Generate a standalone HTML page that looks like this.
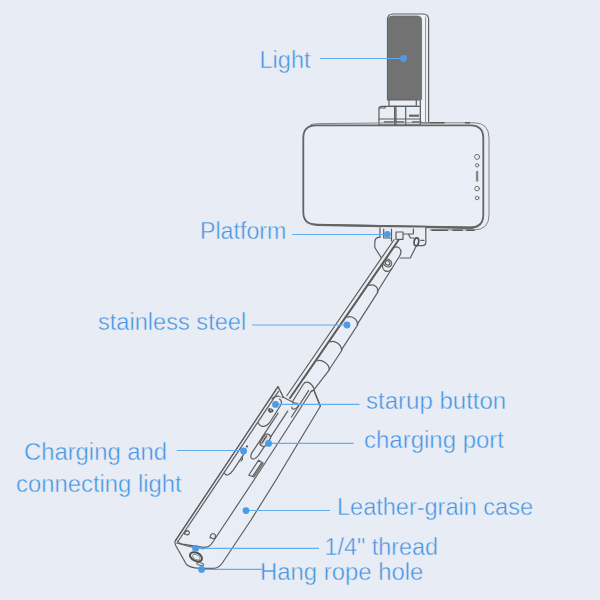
<!DOCTYPE html>
<html lang="en">
<head>
<meta charset="utf-8">
<title>Product parts diagram</title>
<style>
html,body{margin:0;padding:0;background:#e8ecf5;}
body{width:600px;height:600px;overflow:hidden;position:relative;font-family:"Liberation Sans",sans-serif;}
svg{position:absolute;left:0;top:0;display:block;}
.lbl{font-family:"Liberation Sans",sans-serif;font-size:24.6px;fill:#4494e2;stroke:#e8ecf5;stroke-width:0.45px;}
.ln{stroke:#62abec;stroke-width:1.15;fill:none;}
.dot{fill:#4b9ce6;}
.g{stroke:#5e5e5e;stroke-width:1.2;fill:none;stroke-linejoin:round;stroke-linecap:round;}
.gf{stroke:#5e5e5e;stroke-width:1.2;fill:#e9edf5;stroke-linejoin:round;stroke-linecap:round;}
</style>
</head>
<body>
<svg width="600" height="600" viewBox="0 0 600 600">
<rect width="600" height="600" fill="#e8ecf5"/>

<!-- ===== DEVICE ===== -->
<g id="device">
<!-- light -->
<g id="light">
<path class="gf" style="fill:#eff2f8" d="M387.5 100 V19.5 Q387.5 14 393 14 H423 Q428.6 14 428.6 19.5 V123 H420.3 V100 Z"/>
<path class="g" style="stroke:#8c8c8c;stroke-width:1" d="M425.6 17 V123"/>
<path d="M388.2 99.4 V20 Q388.2 16 392.2 16 H417.6 Q421.6 16 421.6 20 V99.4 Z" fill="#727272" stroke="#6a6a6a" stroke-width="0.8"/>
<rect class="gf" x="389" y="100" width="27.3" height="6.3"/>
<path class="gf" d="M379 125 V109 Q379 106.3 382 106.3 H420.3 V125 Z"/>
<path class="g" d="M394.6 106.3 V125 M396 106.3 V125 M405.7 106.3 V125 M379 119 H420.3 M379 108 H385 V106.3"/>
<path class="g" style="stroke:#5e5e5e;stroke-width:1.6" d="M384.5 122 H403.5 M412.5 122 H421"/>
<rect x="409" y="114.6" width="10" height="2.2" fill="#666"/>
</g>
<!-- phone -->
<g id="phone">
<path class="g" style="stroke-width:1;stroke:#858585" d="M310.5 124.8 Q313 123.7 320 123.6 L400 122.8 H474 Q489 122.7 489 138 V215 Q489 229.9 474 229.9 H430"/>
<path class="gf" style="stroke-width:1.8;stroke:#646464;fill:#eaeef6" d="M316 125.3 H470.5 Q483.3 125.3 483.3 138 V214.5 Q483.3 227.6 470.5 227.6 L316 224.6 Q303.3 224.4 303.3 212 V138 Q303.3 125.3 316 125.3 Z"/>
<path d="M318 224 L470.5 226.6 Q477 226.6 480.5 222.5 Q478 229 470.5 229 L318 225.9 Q312 225.8 309 222.6 Q312.5 224 318 224Z" fill="#646464"/>
<path class="g" style="stroke-width:1.6;stroke:#5a5a5a" d="M432 230.2 H447.4 M453 230.3 H462 M466.7 230.3 H474"/>
<path class="g" style="stroke-width:1.5;stroke:#5a5a5a" d="M430 122.8 H444 M465.5 122.8 H469.5"/>
<circle class="g" cx="477.1" cy="156.9" r="2.5" style="stroke-width:1;stroke:#707070"/>
<circle class="g" cx="477.1" cy="165.3" r="1.7" style="stroke-width:1;stroke:#707070"/>
<rect x="475.9" y="170.8" width="2.4" height="11" rx="1.2" fill="#8a8a8a"/>
<circle class="g" cx="477.1" cy="188.6" r="2.3" style="stroke-width:1;stroke:#707070"/>
<circle class="g" cx="477.1" cy="198" r="1.8" style="stroke-width:1;stroke:#707070"/>
</g>
<!-- mount -->
<g id="mount">
<path d="M380 227.5 V236.5 H378.5 L374.6 240.5 V248 L384.5 263 L400 258 H410.3 L416.5 245.6 H422.7 Q425.8 245.6 425.8 242.6 V227.5 Z" fill="#e9edf5"/>
<path class="g" d="M380 227.8 V237.4 H378 Q375.2 238.2 374.8 241.5 V247.5 L383.6 261.5 M400 258 H410.3 L416.5 245.6 H422.7 Q425.8 245.6 425.8 242.6 V227.8"/>
<path class="g" d="M383.7 229 V238 H391.5 M391.5 229 V241 M396 232 H403 V239.4 H396 Z M403 234 H413.4 V229 M408.4 234 L410.4 238 H413.6"/>
<ellipse class="g" cx="416.4" cy="241.8" rx="2.3" ry="4" transform="rotate(8 416.4 241.8)" style="stroke-width:1.7;stroke:#505050"/>
<path class="g" d="M420.8 240.3 H424"/>
</g>
<!-- case body -->
<g id="casebody">
<path d="M278 386.7 L175.6 540.4 Q174.2 543 176 546 L186 563.8 Q188.5 567.6 200 568.4 H213 Q219 568.6 223 562 L251 520 L276 480 L300.3 439.5 L320.4 406.3 L313.8 390 L311.3 391.3 L292 402 L283.3 397.3 Z" fill="#e9edf5"/>
<path class="g" d="M283.3 397.3 L278 386.7 L175.6 540.4 Q174.2 543 176 546 L186 563.8 Q188.5 567.6 200 568.4 H213 Q219 568.6 223 562 L251 520 L276 480 L300.3 439.5 L320.4 406.3 L313.8 390 L311.3 391.3"/>
</g>
<!-- pole -->
<g id="pole" transform="translate(396.4 249) rotate(34.5)">
<path d="M-3 163 V2 C-3 -4.5 6 -4 6.6 4 L8.5 46 H9.1 L10.4 84 H11 L11.9 114 H12.4 L12.9 137 H13.2 L11.9 161 Z" fill="#e9edf5"/>
<path class="g" d="M-3 160 V2 C-3 -4.5 6 -4 6.6 4 L8.5 46 H9.1 L10.4 84 H11 L11.9 114 H12.4 L12.9 137 H13.2 L11.9 161"/>
<path class="g" d="M-2 45.5 C1 41.5 7 41 8.9 46.4 M-2 84 C1 80 8 79.5 10.8 84.6 M-2 114 C1 110 9 109.5 12.2 114.6 M-2 137 C1 133 10 132.5 13 137.6"/>
<ellipse class="g" cx="0.6" cy="16.5" rx="4.3" ry="3.7"/>
<ellipse class="g" cx="0.6" cy="16.5" rx="2.4" ry="2"/>
<path class="g" d="M-3 18 Q-2 24.5 2.5 24.5 Q7.4 24 7.4 19"/>
<path d="M-7.2 -6.3 V183 H-2.6 V-9 Z" fill="#e9edf5"/>
<path class="g" d="M-7.2 -6.3 V183"/>
<path class="g" style="stroke:#5c5c5c;stroke-width:2" d="M-3.3 -8.6 V183"/>
</g>
<!-- case details -->
<g id="casetop">
<path class="g" d="M303.3 384.2 Q305 381.3 308.3 382.4 Q312.3 384 314.4 389.6 M303.3 384.2 L292.7 401.3"/>
<path class="g" d="M311.3 391.3 L313.8 390 L320.4 406.3"/>
<path class="g" d="M308.6 390.6 L291.5 417"/>
<path class="g" d="M311.3 391.3 L280 440 L254 480 L227.5 520 L212.5 542.5 Q209.5 547.6 203.5 547.4 L182.5 544.2 Q179 543.4 177.6 541.2"/>
<path class="g" d="M176.6 543 Q190 547.4 203.3 548.9"/>
<path class="g" d="M272 398.9 Q274.5 395.6 279 396.2 L283.3 397.3 L288.7 400 L293.5 402.5"/>
<path class="g" d="M292.6 403 Q297 402.6 298.4 404.6 Q298.6 407 294.5 409 Q291.5 409.6 291.8 407"/>
<path class="gf" d="M278 386.7 L283.3 397.3 L279.4 396.2 Z" style="stroke:none"/>
<path class="g" d="M283.3 397.3 L278 386.7 L175.6 540.4"/>
</g>
<g id="caseface" transform="translate(278 386.7) rotate(33.4)">
<path class="g" d="M2.9 3.6 L1.7 184.6"/>
<path class="g" d="M3.2 41 Q5 42.6 8 42 Q12.6 40.5 12.8 33 L12.4 14 Q12 9.5 8 9.5"/>
<path d="M4 23.4 Q6.6 20.8 9.6 22.4 Q10 25 7.2 26.2 Q4.2 26 4 23.4Z" fill="#505050"/>
<ellipse cx="7" cy="23.6" rx="1.2" ry="0.7" fill="#b8bcc4"/>
<path class="g" d="M14.6 22 V70 Q15.4 75.4 19 74.2 Q21.4 72 21.5 68 V15"/>
<rect class="g" x="15.6" y="45" width="6.6" height="13.4" rx="3" style="fill:#d9dde6"/>
<path class="g" d="M17.6 47.5 V56" style="stroke:#555;stroke-width:1.4"/>
<circle cx="6.9" cy="66.9" r="1" fill="#444"/>
<path class="g" d="M2.8 101.4 Q4.6 103 6.4 101.6 Q8.6 99 8.6 94 V76 Q8 72 5 71.6"/>
<path class="g" d="M8.8 78.5 Q11 79.6 10 82.4"/>
<path class="g" d="M24.3 72 H29.7 V88.6 L24.3 90 Z M28.2 72.4 V88.6"/>
<path class="g" d="M3.2 174.6 Q1.8 172 3.6 170 Q6 169 6.8 171.8 Q6.4 174.4 4 174"/>
<path class="g" d="M26.8 163.6 Q24.4 161 26.4 158.4 Q29.6 157 30.6 160.2 Q30.4 163.4 27.4 162.6"/>
</g>
<g id="caseend">
<ellipse cx="196" cy="556.8" rx="6.4" ry="4.1" transform="rotate(27 196 556.8)" style="fill:#eef1f7;stroke:#505050;stroke-width:2"/>
<ellipse cx="196.3" cy="557.1" rx="3.9" ry="2.2" transform="rotate(27 196.3 557.1)" style="fill:none;stroke:#8a8a8a;stroke-width:0.9"/>
<ellipse cx="200.2" cy="564" rx="3.6" ry="1.3" transform="rotate(15 200.2 564)" style="fill:none;stroke:#666;stroke-width:1.1"/>
</g>
</g>

<!-- ===== LEADER LINES ===== -->
<g id="leaders">
<path class="ln" d="M320 58.5 H404"/>
<circle class="dot" cx="403.5" cy="58.5" r="3.4"/>
<path class="ln" d="M292 234.5 H387"/>
<circle class="dot" cx="387.3" cy="234.3" r="3.4"/>
<path class="ln" d="M252 325 H347"/>
<circle class="dot" cx="347" cy="325" r="3.4"/>
<path class="ln" d="M275.5 404.4 H359.5"/>
<circle class="dot" cx="275.5" cy="404.4" r="3.4"/>
<path class="ln" d="M268.6 443.4 H353.5"/>
<circle class="dot" cx="268.6" cy="443.4" r="3.4"/>
<path class="ln" d="M176.7 450.5 H243.6"/>
<circle class="dot" cx="243.6" cy="451" r="3.4"/>
<path class="ln" d="M246 510.5 H330"/>
<circle class="dot" cx="246" cy="510.6" r="3.4"/>
<path class="ln" d="M195.6 548.4 H319"/>
<circle class="dot" cx="195.6" cy="548.4" r="3.4"/>
<path class="ln" d="M201.6 569.4 H262"/>
<circle class="dot" cx="201.6" cy="569.4" r="3.4"/>
</g>

<!-- ===== LABELS ===== -->
<g id="labels">
<text class="lbl" x="259.5" y="67.8" textLength="51.0" lengthAdjust="spacingAndGlyphs">Light</text>
<text class="lbl" x="200.0" y="238.8" textLength="86.3" lengthAdjust="spacingAndGlyphs">Platform</text>
<text class="lbl" x="98.0" y="330" textLength="148.2" lengthAdjust="spacingAndGlyphs">stainless steel</text>
<text class="lbl" x="366.0" y="409" textLength="140.2" lengthAdjust="spacingAndGlyphs">starup button</text>
<text class="lbl" x="364.0" y="447.7" textLength="140.0" lengthAdjust="spacingAndGlyphs">charging port</text>
<text class="lbl" x="24.0" y="459.7" textLength="143.0" lengthAdjust="spacingAndGlyphs">Charging and</text>
<text class="lbl" x="16.0" y="491.7" textLength="165.7" lengthAdjust="spacingAndGlyphs">connecting light</text>
<text class="lbl" x="337.0" y="515" textLength="196.0" lengthAdjust="spacingAndGlyphs">Leather-grain case</text>
<text class="lbl" x="324.4" y="554.8" textLength="113.6" lengthAdjust="spacingAndGlyphs">1/4" thread</text>
<text class="lbl" x="260.0" y="580" textLength="163.4" lengthAdjust="spacingAndGlyphs">Hang rope hole</text>
</g>
</svg>
</body>
</html>
